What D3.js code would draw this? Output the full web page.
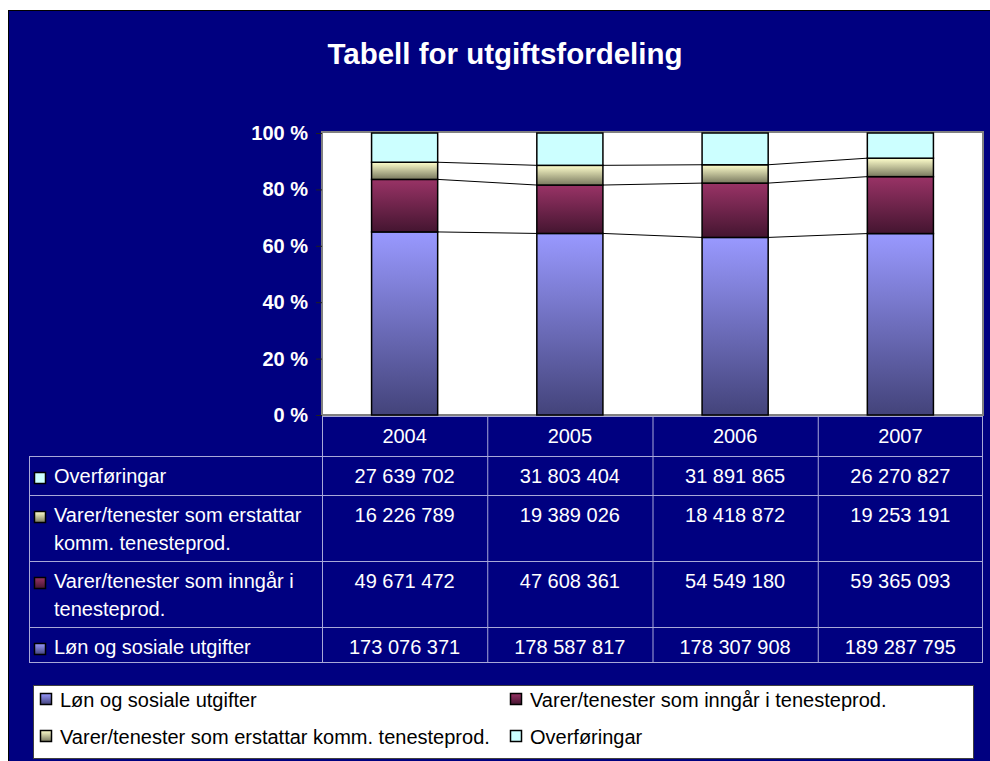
<!DOCTYPE html>
<html>
<head>
<meta charset="utf-8">
<script src="https://cdn.jsdelivr.net/npm/d3@7"></script>
<style>
  html, body { margin: 0; padding: 0; background: #fff; }
  svg { display: block; font-family: "Liberation Sans", Arial, sans-serif; }
</style>
</head>
<body>
<svg id="chart" width="990" height="761"></svg>
<script>
// data
const years = ['2004', '2005', '2006', '2007'];
const lonn = [173076371, 178587817, 178307908, 189287795];
const inngar = [49671472, 47608361, 54549180, 59365093];
const erstattar = [16226789, 19389026, 18418872, 19253191];
const overforing = [27639702, 31803404, 31891865, 26270827];
const seriesNames = [
    'Løn og sosiale utgifter',
    'Varer/tenester som inngår i tenesteprod.',
    'Varer/tenester som erstattar komm. tenesteprod.',
    'Overføringar'
];
const yTicks = [0, 0.2, 0.4, 0.6, 0.8, 1];

const keys = ['lonn', 'inngar', 'erstattar', 'overforing'];
const rows = years.map((y, i) => ({
    year: y, lonn: lonn[i], inngar: inngar[i], erstattar: erstattar[i], overforing: overforing[i]
}));
const colorStops = {
    lonn: ['#9999ff', '#43437a'],
    inngar: ['#993366', '#441530'],
    erstattar: ['#ffffcc', '#78785e'],
    overforing: ['#ccffff', '#ccffff']
};

const svg = d3.select('#chart');

// navy background
svg.append('rect')
    .attr('x', 8.5).attr('y', 10.5)
    .attr('width', 990).attr('height', 761)
    .attr('fill', '#000080')
    .attr('stroke', '#000').attr('stroke-width', 1);

const defs = svg.append('defs');
keys.forEach(k => {
    const g = defs.append('linearGradient')
        .attr('id', 'g-' + k)
        .attr('x1', 0).attr('y1', 0).attr('x2', 0).attr('y2', 1);
    g.append('stop').attr('offset', '0%').attr('stop-color', colorStops[k][0]);
    g.append('stop').attr('offset', '100%').attr('stop-color', colorStops[k][1]);
});

svg.append('text')
    .attr('x', 505).attr('y', 64)
    .attr('text-anchor', 'middle')
    .attr('fill', '#fff')
    .attr('font-size', 29.5).attr('font-weight', 'bold')
    .text('Tabell for utgiftsfordeling');

const plotL = 322, plotR = 983, plotT = 132, plotB = 415;

const x = d3.scaleBand().domain(years).range([plotL, plotR])
    .paddingInner(0.6).paddingOuter(0.3);
const col = d3.scaleBand().domain(years).range([plotL, plotR]);
const y = d3.scaleLinear().domain([0, 1]).range([plotB, plotT + 1]);

// plot area
svg.append('rect')
    .attr('x', plotL).attr('y', plotT)
    .attr('width', plotR - plotL).attr('height', plotB - plotT)
    .attr('fill', '#fff')
    .attr('stroke', '#808080').attr('stroke-width', 2);

const stack = d3.stack().keys(keys).offset(d3.stackOffsetExpand);
const series = stack(rows);

// series lines between bars
series.slice(0, 3).forEach(s => {
    for (let i = 0; i < years.length - 1; i++) {
        svg.append('line')
            .attr('x1', x(years[i]) + x.bandwidth())
            .attr('y1', y(s[i][1]))
            .attr('x2', x(years[i + 1]))
            .attr('y2', y(s[i + 1][1]))
            .attr('stroke', '#000').attr('stroke-width', 1);
    }
});

series.forEach(s => {
    svg.append('g').selectAll('rect')
        .data(s)
        .join('rect')
        .attr('x', d => x(d.data.year))
        .attr('y', d => y(d[1]))
        .attr('width', x.bandwidth())
        .attr('height', d => y(d[0]) - y(d[1]))
        .attr('fill', 'url(#g-' + s.key + ')')
        .attr('stroke', '#000').attr('stroke-width', 1.5);
});

// y axis
const yAxis = svg.append('g')
    .attr('transform', `translate(${plotL},0)`)
    .call(d3.axisLeft(y).tickValues(yTicks)
        .tickFormat(d => Math.round(d * 100) + ' %')
        .tickSize(6).tickPadding(8));
yAxis.select('.domain').remove();
yAxis.selectAll('line').attr('stroke', '#202020');
yAxis.selectAll('text')
    .attr('fill', '#fff')
    .attr('font-size', 20).attr('font-weight', 'bold')
    .attr('font-family', '"Liberation Sans", Arial, sans-serif');

// data table
const fmt = d3.formatLocale({ decimal: ',', thousands: ' ', grouping: [3], currency: ['', ''] }).format(',');
const tableLeft = 29;
const headTop = 416, rowTops = [456, 495, 561, 627], tableBottom = 662;
const tableOrder = [3, 2, 1, 0];
const lineColor = '#a8a8d8';

const tbl = svg.append('g');
// header row
tbl.selectAll('text.year')
    .data(years)
    .join('text')
    .attr('class', 'year')
    .attr('x', d => col(d) + col.bandwidth() / 2)
    .attr('y', 443)
    .attr('text-anchor', 'middle')
    .attr('fill', '#fff').attr('font-size', 20)
    .text(d => d);

// grid lines
tbl.append('line')
    .attr('x1', plotL).attr('x2', plotR).attr('y1', headTop + 0.5).attr('y2', headTop + 0.5)
    .attr('stroke', lineColor);
rowTops.concat([tableBottom]).forEach(yy => tbl.append('line')
    .attr('x1', tableLeft).attr('x2', plotR).attr('y1', yy + 0.5).attr('y2', yy + 0.5)
    .attr('stroke', lineColor));
tbl.append('line')
    .attr('x1', tableLeft + 0.5).attr('x2', tableLeft + 0.5)
    .attr('y1', rowTops[0]).attr('y2', tableBottom)
    .attr('stroke', lineColor);
years.forEach(yr => tbl.append('line')
    .attr('x1', col(yr) + 0.5).attr('x2', col(yr) + 0.5)
    .attr('y1', headTop).attr('y2', tableBottom)
    .attr('stroke', lineColor));
tbl.append('line')
    .attr('x1', plotR - 0.5).attr('x2', plotR - 0.5)
    .attr('y1', headTop).attr('y2', tableBottom)
    .attr('stroke', lineColor);

function wrapText(text, maxW, fontSize) {
    const probe = svg.append('text').attr('font-size', fontSize);
    const words = text.split(' ');
    const lines = [];
    let cur = '';
    words.forEach(w => {
        const test = cur ? cur + ' ' + w : w;
        probe.text(test);
        if (probe.node().getComputedTextLength() > maxW && cur) {
            lines.push(cur);
            cur = w;
        } else {
            cur = test;
        }
    });
    lines.push(cur);
    probe.remove();
    return lines;
}

const seriesVals = [lonn, inngar, erstattar, overforing];
tableOrder.forEach((si, r) => {
    const rTop = rowTops[r];
    const base = rTop + 27;
    tbl.append('rect')
        .attr('x', 34.5).attr('y', base - 10.5)
        .attr('width', 11).attr('height', 11)
        .attr('fill', 'url(#g-' + keys[si] + ')')
        .attr('stroke', '#000').attr('stroke-width', 1.5);
    const lines = wrapText(seriesNames[si], 262, 20);
    lines.forEach((ln, li) => {
        tbl.append('text')
            .attr('x', 54).attr('y', base + li * 28)
            .attr('fill', '#fff').attr('font-size', 20)
            .text(ln);
    });
    tbl.selectAll(null)
        .data(seriesVals[si])
        .join('text')
        .attr('x', (d, i) => col(years[i]) + col.bandwidth() / 2)
        .attr('y', base)
        .attr('text-anchor', 'middle')
        .attr('fill', '#fff').attr('font-size', 20)
        .text(d => fmt(d));
});

// legend
const lg = svg.append('g');
lg.append('rect')
    .attr('x', 33.5).attr('y', 685.5)
    .attr('width', 940).attr('height', 73)
    .attr('fill', '#fff')
    .attr('stroke', '#404040').attr('stroke-width', 1);
const legendPos = [[40, 693], [510, 693], [40, 730], [510, 730]];
seriesNames.forEach((name, i) => {
    const [lx, ly] = legendPos[i];
    lg.append('rect')
        .attr('x', lx + 0.5).attr('y', ly + 0.5)
        .attr('width', 11).attr('height', 11)
        .attr('fill', 'url(#g-' + keys[i] + ')')
        .attr('stroke', '#000').attr('stroke-width', 1.5);
    lg.append('text')
        .attr('x', lx + 20).attr('y', ly + 14)
        .attr('fill', '#000').attr('font-size', 20)
        .text(name);
});
</script>
</body>
</html>
